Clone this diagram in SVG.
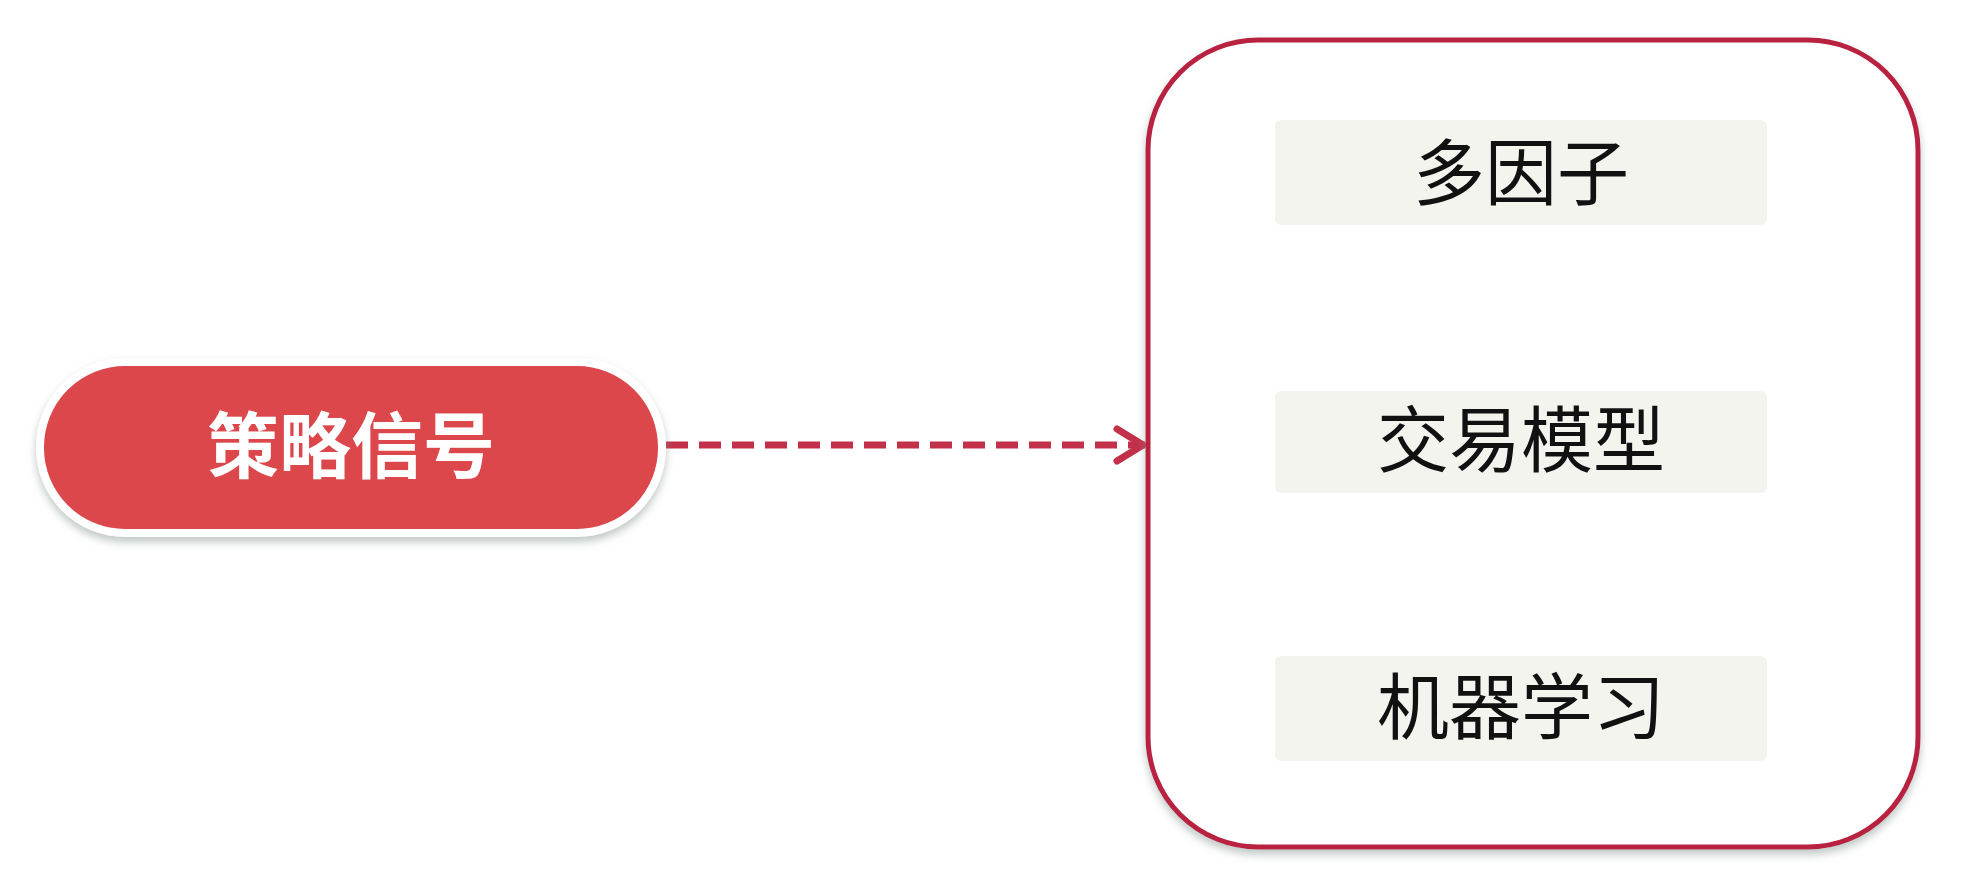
<svg xmlns="http://www.w3.org/2000/svg" width="1965" height="891" viewBox="0 0 1965 891">
<defs>
<filter id="sh" x="-10%" y="-10%" width="120%" height="130%">
<feGaussianBlur in="SourceAlpha" stdDeviation="4"/>
<feOffset dx="0" dy="5" result="b"/>
<feFlood flood-color="#8a9a96" flood-opacity="0.55"/>
<feComposite in2="b" operator="in"/>
<feMerge><feMergeNode/><feMergeNode in="SourceGraphic"/></feMerge>
</filter>
<marker id="arr" viewBox="0 0 34 40" refX="32" refY="20" markerWidth="34" markerHeight="40" markerUnits="userSpaceOnUse" orient="auto">
<polyline points="4,4 30,20 4,36" fill="none" stroke="#c2304a" stroke-width="7" stroke-linecap="round" stroke-linejoin="round"/>
</marker>
</defs>
<style>
.lbl{font-family:"Noto Sans CJK SC","Noto Sans",sans-serif;font-size:72px;text-anchor:middle;fill:#111}
.item{fill:#f3f4ee}
.big{fill:#ffffff;stroke:#b82440;stroke-width:5}
.pill{fill:#dc474c;stroke:#ffffff;stroke-width:8}
</style>
<rect width="1965" height="891" fill="#ffffff"/>
<g id="connectors">
<line x1="666" y1="445" x2="1145" y2="445" stroke="#c2304a" stroke-width="7" stroke-dasharray="22,11" marker-end="url(#arr)"/>
</g>
<g id="node-signal">
<rect class="pill" x="40" y="362" width="622" height="171" rx="85" filter="url(#sh)"/>
<text class="lbl" x="351" y="472" style="fill:#ffffff;font-weight:bold">策略信号</text>
</g>
<g id="node-group">
<rect class="big" x="1148" y="40" width="770" height="807" rx="110" filter="url(#sh)"/>
</g>
<g id="node-multifactor">
<rect class="item" x="1275" y="120" width="492" height="105" rx="6"/>
<text class="lbl" x="1521" y="199">多因子</text>
</g>
<g id="node-trading">
<rect class="item" x="1275" y="391" width="492" height="102" rx="6"/>
<text class="lbl" x="1521" y="466">交易模型</text>
</g>
<g id="node-ml">
<rect class="item" x="1275" y="656" width="492" height="105" rx="6"/>
<text class="lbl" x="1521" y="733">机器学习</text>
</g>
</svg>
